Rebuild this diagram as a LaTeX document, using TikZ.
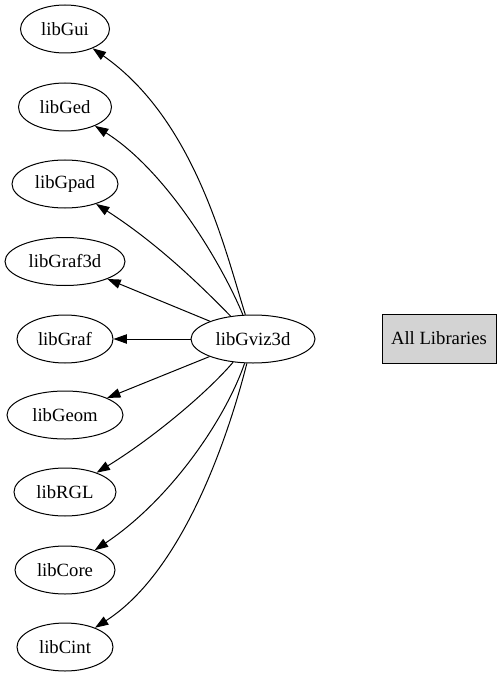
\documentclass[tikz,border=0pt]{standalone}
\usepackage{fontspec}
\setmainfont{Liberation Serif}
\usetikzlibrary{shapes.geometric,arrows.meta}
\definecolor{lgray}{HTML}{D3D3D3}
\tikzset{
  lib/.style={draw, ellipse, line width=0.75pt, inner sep=0pt, minimum height=36pt, font=\fontsize{14pt}{16pt}\selectfont},
  allbox/.style={draw, rectangle, fill=lgray, line width=0.75pt, inner sep=0pt, minimum width=85.5pt, minimum height=36.75pt, font=\fontsize{14pt}{16pt}\selectfont},
  edge/.style={line width=0.75pt, -{Triangle[length=10pt,width=7pt]}}
}
\begin{document}
\begin{tikzpicture}[x=0.75pt,y=-0.75pt]
\useasboundingbox (0,0) rectangle (501,677);
\node[lib, minimum width=66.75pt] (gui) at (65,29) {libGui};
\node[lib, minimum width=69.75pt] (ged) at (65,107) {libGed};
\node[lib, minimum width=79.5pt] (gpad) at (65,184) {libGpad};
\node[lib, minimum width=90pt] (graf3d) at (65,261.5) {libGraf3d};
\node[lib, minimum width=72pt] (graf) at (65,339) {libGraf};
\node[lib, minimum width=87pt] (geom) at (65,415) {libGeom};
\node[lib, minimum width=76.5pt] (rgl) at (65,492) {libRGL};
\node[lib, minimum width=75pt] (core) at (65,570) {libCore};
\node[lib, minimum width=72pt] (cint) at (65,647) {libCint};
\node[lib, minimum width=93pt] (v) at (253,339) {libGviz3d};
\node[allbox] (all) at (439,338.5) {All Libraries};

\draw[edge] (v) .. controls (225,250) and (195,120) .. (gui);
\draw[edge] (v) .. controls (220,260) and (165,170) .. (ged);
\draw[edge] (v) .. controls (205,290) and (160,245) .. (gpad);
\draw[edge] (v) -- (graf3d);
\draw[edge] (v) -- (graf);
\draw[edge] (v) -- (geom);
\draw[edge] (v) .. controls (205,395) and (150,440) .. (rgl);
\draw[edge] (v) .. controls (225,420) and (170,500) .. (core);
\draw[edge] (v) .. controls (230,430) and (185,570) .. (cint);
\end{tikzpicture}
\end{document}
